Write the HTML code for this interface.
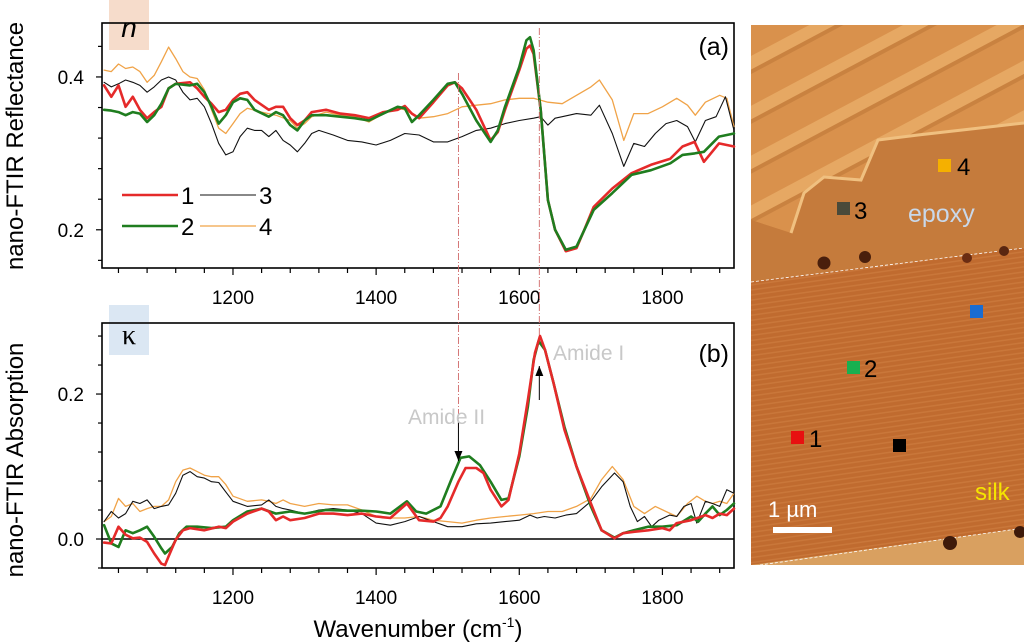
<!DOCTYPE html>
<html><head><meta charset="utf-8">
<style>
html,body{margin:0;padding:0;background:#fff;}
svg{display:block;font-family:"Liberation Sans",sans-serif;}
</style></head>
<body>
<svg id="fig" width="1024" height="644" viewBox="0 0 1024 644" xmlns="http://www.w3.org/2000/svg">
  <defs>
    <pattern id="stripes" width="44" height="44" patternUnits="userSpaceOnUse" patternTransform="rotate(-28)">
      <rect width="44" height="44" fill="#d9914c"/>
      <rect width="44" height="12" y="6" fill="#e6a863"/>
      <rect width="44" height="4" y="18" fill="#c98240"/>
    </pattern>
    <pattern id="silkTex" width="8" height="5" patternUnits="userSpaceOnUse" patternTransform="rotate(-8)">
      <rect width="8" height="5" fill="#c06b2f"/>
      <rect width="8" height="1.5" y="1" fill="#c9773a"/>
    </pattern>
    <marker id="arrowHead" markerWidth="10" markerHeight="8" refX="10" refY="4" orient="auto" markerUnits="userSpaceOnUse">
      <path d="M0,0 L10,4 L0,8 Z" fill="#000"/>
    </marker>
  </defs>

  <g id="afm">
    <rect x="751" y="25" width="273" height="540" fill="#c97c3c"/>
    <polygon points="751,25 1024,25 1024,123 918,135 878,140 861,180 824,177 804,193 791,233 751,220" fill="url(#stripes)"/>
    <polygon points="751,220 791,233 804,193 824,177 861,180 878,140 918,135 1024,123 1024,248 751,282" fill="#c57b3c"/>
    <polyline points="791,233 804,193 824,177 861,180 878,140 918,135 1024,123" fill="none" stroke="#f0c080" stroke-width="3"/>
    <polygon points="751,282 1024,248 1024,528 751,565" fill="url(#silkTex)"/>
    <polygon points="751,565 1024,528 1024,565 751,565" fill="#d9a060"/>
    <line x1="751" y1="282" x2="1024" y2="248" stroke="#fff" stroke-width="0.8" stroke-dasharray="3 2"/>
    <line x1="760" y1="565" x2="1024" y2="528" stroke="#fff" stroke-width="0.8" stroke-dasharray="3 2"/>
    <circle cx="824" cy="263" r="6.5" fill="#4a1f0c"/>
    <circle cx="865" cy="257" r="6" fill="#4a1f0c"/>
    <circle cx="967" cy="258" r="5" fill="#6a2c12"/>
    <circle cx="1004" cy="251" r="5" fill="#5a2610"/>
    <circle cx="950" cy="543" r="7" fill="#3e1a0a"/>
    <circle cx="1020" cy="532" r="6" fill="#3e1a0a"/>
    <rect x="938" y="159" width="13" height="13" fill="#f5b000"/>
    <text x="957" y="175" font-size="24" fill="#000">4</text>
    <rect x="837" y="202" width="13" height="13" fill="#4a4a3a"/>
    <text x="854" y="219" font-size="24" fill="#000">3</text>
    <text x="908" y="222" font-size="25" fill="#c9d8ea">epoxy</text>
    <rect x="970" y="305" width="13" height="13" fill="#1a6cd0"/>
    <rect x="847" y="361" width="13" height="13" fill="#18b050"/>
    <text x="864" y="377" font-size="24" fill="#000">2</text>
    <rect x="791" y="431" width="13" height="13" fill="#e81010"/>
    <text x="809" y="447" font-size="24" fill="#000">1</text>
    <rect x="893" y="439" width="13" height="13" fill="#000"/>
    <text x="975" y="500" font-size="24" fill="#f5e400">silk</text>
    <text x="768" y="517" font-size="22" fill="#fff">1 µm</text>
    <rect x="773" y="527" width="59" height="6" fill="#fff"/>
  </g>

  <g id="plots"></g>
</svg>

<script>
// ---------- Panel (a) data: nano-FTIR reflectance ----------
const wA12 = [1020,1030,1040,1050,1060,1070,1080,1090,1100,1110,1120,1140,1150,1160,1170,1180,1190,1200,1210,1220,1230,1250,1260,1270,1280,1290,1300,1310,1330,1350,1370,1390,1410,1430,1440,1450,1460,1480,1500,1510,1520,1540,1560,1570,1580,1600,1610,1615,1620,1630,1640,1650,1665,1680,1690,1704,1730,1757,1784,1811,1828,1845,1858,1879,1900];
const nRed = [.389,.374,.389,.361,.374,.357,.346,.354,.361,.385,.391,.393,.385,.374,.365,.354,.357,.370,.378,.380,.370,.357,.361,.361,.346,.337,.343,.354,.357,.352,.350,.346,.354,.357,.362,.352,.346,.367,.389,.393,.385,.357,.317,.328,.357,.409,.437,.441,.430,.357,.239,.200,.172,.176,.198,.230,.254,.274,.285,.293,.309,.315,.289,.313,.309];
const nGreen = [.357,.356,.354,.350,.354,.352,.341,.350,.365,.385,.391,.389,.391,.380,.361,.339,.350,.367,.372,.370,.357,.348,.354,.350,.337,.330,.343,.350,.350,.348,.346,.343,.352,.361,.359,.341,.350,.370,.391,.393,.378,.343,.315,.330,.361,.413,.448,.452,.435,.357,.239,.200,.174,.178,.198,.226,.248,.272,.278,.287,.298,.300,.302,.322,.326];
const wA3 = [1020,1030,1040,1050,1060,1070,1080,1090,1100,1110,1120,1130,1140,1150,1160,1170,1180,1190,1200,1210,1220,1230,1240,1250,1260,1270,1280,1290,1300,1310,1320,1340,1360,1380,1400,1420,1440,1460,1480,1500,1520,1540,1560,1580,1600,1620,1630,1640,1650,1660,1680,1700,1712,1730,1746,1760,1775,1790,1805,1820,1835,1846,1860,1875,1888,1900];
const nBlack = [.393,.387,.391,.396,.393,.389,.380,.387,.396,.400,.396,.380,.370,.372,.361,.339,.313,.298,.302,.322,.333,.330,.330,.322,.330,.317,.311,.302,.313,.326,.330,.324,.317,.315,.311,.317,.326,.324,.315,.315,.322,.330,.333,.339,.343,.346,.348,.337,.346,.348,.352,.350,.363,.326,.283,.313,.309,.326,.339,.343,.335,.315,.343,.348,.374,.330];
const wA4 = [1020,1030,1040,1050,1060,1070,1080,1090,1100,1110,1120,1130,1140,1150,1160,1170,1180,1190,1200,1210,1220,1240,1260,1280,1290,1300,1310,1330,1350,1370,1390,1410,1430,1440,1460,1480,1500,1520,1540,1560,1580,1600,1620,1640,1660,1680,1700,1712,1730,1746,1760,1780,1800,1820,1835,1846,1860,1880,1890,1900];
const nOrange = [.409,.407,.417,.411,.413,.407,.393,.402,.420,.439,.424,.407,.400,.398,.383,.357,.333,.326,.339,.352,.359,.354,.350,.343,.333,.339,.348,.354,.350,.348,.341,.352,.359,.357,.346,.348,.352,.361,.363,.365,.370,.372,.372,.367,.365,.376,.387,.396,.370,.317,.352,.352,.361,.372,.363,.350,.367,.376,.372,.335];

// ---------- Panel (b) data: nano-FTIR absorption ----------
const wB1 = [1020,1030,1040,1050,1060,1070,1080,1090,1100,1105,1110,1120,1130,1140,1160,1180,1190,1200,1220,1240,1250,1260,1270,1280,1300,1320,1340,1360,1380,1400,1420,1443,1460,1480,1490,1500,1515,1525,1540,1550,1560,1575,1585,1600,1612,1622,1629,1636,1648,1663,1680,1700,1715,1733,1745,1760,1780,1800,1810,1820,1840,1860,1870,1880,1890,1900];
const kRed = [-.005,-.006,.017,.006,.001,.002,-.004,-.020,-.034,-.036,-.024,-.001,.012,.015,.012,.017,.015,.024,.035,.042,.038,.026,.031,.026,.029,.035,.035,.033,.035,.031,.029,.049,.026,.024,.029,.045,.079,.098,.098,.091,.068,.045,.054,.118,.192,.257,.280,.261,.215,.151,.100,.049,.012,.001,.008,.010,.012,.015,.012,.022,.026,.033,.029,.035,.033,.042];
const wB2 = [1020,1030,1040,1050,1060,1070,1080,1090,1100,1105,1115,1125,1135,1150,1170,1190,1200,1220,1240,1260,1280,1300,1330,1360,1380,1400,1420,1443,1456,1470,1490,1505,1518,1530,1545,1560,1575,1585,1600,1612,1620,1627,1636,1648,1663,1680,1700,1715,1733,1745,1760,1780,1800,1820,1840,1850,1860,1870,1880,1890,1900];
const kGreen = [.019,-.006,-.011,.012,.008,.012,.017,.003,-.013,-.020,-.011,.008,.017,.017,.015,.017,.026,.038,.042,.035,.038,.035,.040,.039,.039,.038,.035,.052,.038,.035,.045,.082,.112,.114,.102,.079,.054,.056,.114,.183,.247,.273,.261,.215,.155,.100,.045,.012,.002,.008,.012,.017,.017,.019,.031,.024,.035,.045,.033,.040,.049];
const wB3 = [1020,1030,1040,1050,1060,1070,1080,1090,1100,1110,1120,1130,1140,1150,1160,1170,1180,1190,1200,1220,1240,1250,1260,1270,1280,1300,1320,1340,1360,1380,1400,1420,1440,1460,1480,1500,1520,1540,1560,1580,1600,1615,1625,1635,1650,1665,1680,1700,1715,1733,1745,1755,1765,1775,1785,1795,1810,1820,1830,1840,1848,1860,1870,1880,1890,1900];
const kBlack = [.024,.038,.029,.035,.052,.049,.054,.042,.045,.047,.063,.088,.093,.086,.084,.079,.078,.065,.052,.045,.047,.054,.045,.042,.040,.035,.040,.042,.040,.035,.022,.019,.024,.031,.024,.017,.017,.021,.022,.024,.026,.033,.029,.031,.029,.033,.035,.052,.072,.091,.079,.045,.024,.031,.017,.026,.033,.031,.045,.049,.022,.052,.049,.045,.068,.063];
const wB4 = [1020,1030,1040,1050,1060,1070,1080,1090,1100,1110,1120,1130,1140,1150,1160,1170,1180,1190,1200,1220,1240,1250,1260,1270,1280,1300,1320,1340,1360,1380,1400,1420,1440,1460,1480,1500,1520,1540,1560,1580,1600,1620,1640,1660,1680,1700,1715,1730,1745,1760,1775,1790,1805,1820,1835,1848,1860,1870,1880,1890,1900];
const kOrange = [.024,.031,.056,.045,.049,.038,.042,.045,.045,.054,.079,.095,.098,.093,.088,.086,.086,.075,.059,.052,.054,.052,.049,.054,.049,.045,.049,.047,.047,.040,.031,.029,.029,.031,.026,.024,.022,.026,.029,.031,.033,.035,.038,.038,.045,.056,.082,.100,.082,.045,.035,.045,.038,.031,.049,.059,.052,.049,.052,.049,.063];

// ---------- Axis tick data ----------
const xTickLabels = [1200,1400,1600,1800];
const xMinorTicks = [1040,1080,1120,1160,1200,1240,1280,1320,1360,1400,1440,1480,1520,1560,1600,1640,1680,1720,1760,1800,1840,1880];
const yTicksA = [0.16,0.2,0.24,0.28,0.32,0.36,0.4,0.44];
const yLabelsA = [0.2,0.4];
const yTicksB = [-0.04,0,0.04,0.08,0.12,0.16,0.2,0.24,0.28];
const yLabelsB = [0.0,0.2];
const amidePeaks = [1515,1628];

const NS = 'http://www.w3.org/2000/svg';
const root = document.getElementById('plots');
function mk(tag, attrs, parent){
  const e = document.createElementNS(NS, tag);
  for (const k in attrs) e.setAttribute(k, attrs[k]);
  (parent||root).appendChild(e);
  return e;
}
const X0 = 102, X1 = 734, W0 = 1017, W1 = 1900;
const xS = w => X0 + (w - W0) / (W1 - W0) * (X1 - X0);
const panA = {top:23, bot:268, vmin:0.150, vmax:0.4706};
const panB = {top:323, bot:568, vmin:-0.04, vmax:0.298};
const yS = (p, v) => p.bot - (v - p.vmin) / (p.vmax - p.vmin) * (p.bot - p.top);

function panel(p, yTicks, yLabels, decimals, name){
  const g = mk('g', {});
  
  
  const box = mk('rect', {x:X0, y:p.top, width:X1-X0, height:p.bot-p.top, fill:'none', stroke:'#000', 'stroke-width':1.6}, g);
  
  
  xMinorTicks.forEach(w => {
    const major = xTickLabels.indexOf(w) >= 0;
    const t = mk('line', {x1:xS(w), x2:xS(w), y1:p.bot, y2:p.bot + (major?7:5), stroke:'#000', 'stroke-width':1.2}, g);
    
    
  });
  xTickLabels.forEach(w => {
    const t = mk('text', {x:xS(w), y:p.bot+36, 'font-size':19, 'text-anchor':'middle', fill:'#000'}, g);
    t.textContent = w;
    
    
  });
  yTicks.forEach(v => {
    const major = yLabels.some(l => Math.abs(l - v) < 1e-6);
    const t = mk('line', {x1:X0 - (major?6:4), x2:X0, y1:yS(p,v), y2:yS(p,v), stroke:'#000', 'stroke-width':1.2}, g);
    
    
  });
  yLabels.forEach(v => {
    const t = mk('text', {x:84, y:yS(p,v)+7, 'font-size':19, 'text-anchor':'end', fill:'#000'}, g);
    t.textContent = v.toFixed(decimals);
    
    
  });
  return g;
}
function series(p, ws, vs, color, width, name){
  const pts = ws.map((w,i) => xS(w).toFixed(1) + ',' + yS(p, vs[i]).toFixed(1)).join(' ');
  const l = mk('polyline', {points:pts, fill:'none', stroke:color, 'stroke-width':width, 'stroke-linejoin':'round', 'stroke-linecap':'round'});
  
  
}

const nBox = mk('rect', {x:109, y:0, width:40, height:50, fill:'#f6dccb'});


const kBox = mk('rect', {x:109, y:305, width:40, height:50, fill:'#dbe7f3'});



panel(panA, yTicksA, yLabelsA, 1, 'panel-a');
panel(panB, yTicksB, yLabelsB, 1, 'panel-b');

const z = mk('line', {x1:X0, x2:X1, y1:yS(panB,0), y2:yS(panB,0), stroke:'#000', 'stroke-width':1.5});



series(panA, wA4, nOrange, '#f0a348', 1.3, 'series-4-reflectance');
series(panA, wA3, nBlack, '#111', 1.1, 'series-3-reflectance');
series(panA, wA12, nRed, '#e52a2a', 2.6, 'series-1-reflectance');
series(panA, wA12, nGreen, '#1f7d1f', 2.6, 'series-2-reflectance');
series(panB, wB4, kOrange, '#f0a348', 1.3, 'series-4-absorption');
series(panB, wB3, kBlack, '#111', 1.1, 'series-3-absorption');
series(panB, wB2, kGreen, '#1f7d1f', 2.6, 'series-2-absorption');
series(panB, wB1, kRed, '#e52a2a', 2.6, 'series-1-absorption');

const g1 = mk('line', {x1:xS(amidePeaks[0]), x2:xS(amidePeaks[0]), y1:73, y2:430, stroke:'#d06868', 'stroke-width':0.9, 'stroke-dasharray':'7 2 1 2'});


const g2 = mk('line', {x1:xS(amidePeaks[1]), x2:xS(amidePeaks[1]), y1:28, y2:337, stroke:'#d06868', 'stroke-width':0.9, 'stroke-dasharray':'7 2 1 2'});


const a1 = mk('line', {x1:xS(amidePeaks[0]), x2:xS(amidePeaks[0]), y1:420, y2:461, stroke:'#000', 'stroke-width':1, 'marker-end':'url(#arrowHead)'});


const a2 = mk('line', {x1:xS(amidePeaks[1]), x2:xS(amidePeaks[1]), y1:400, y2:366, stroke:'#000', 'stroke-width':1, 'marker-end':'url(#arrowHead)'});



function txt(x,y,s,attrs,name){
  const t = mk('text', Object.assign({x:x, y:y, fill:'#000'}, attrs));
  t.textContent = s;
  
  
  return t;
}
txt(553, 360, 'Amide I', {'font-size':21, fill:'#c8c8c8'}, 'amide-i-label');
txt(408, 424, 'Amide II', {'font-size':21, fill:'#c8c8c8'}, 'amide-ii-label');
txt(729, 55, '(a)', {'font-size':25, 'text-anchor':'end'}, 'panel-a-label');
txt(729, 362, '(b)', {'font-size':25, 'text-anchor':'end'}, 'panel-b-label');
txt(129, 37, 'n', {'font-size':28, 'font-style':'italic', 'text-anchor':'middle'}, 'n-symbol');
txt(129, 344, 'κ', {'font-size':28, 'text-anchor':'middle', 'font-family':'"Liberation Serif",serif'}, 'kappa-symbol');

const leg = [[122,195,'#e52a2a',2.6,'1'],[200,195,'#111',1.1,'3'],[122,226,'#1f7d1f',2.6,'2'],[200,226,'#f0a348',1.3,'4']];
leg.forEach(d => {
  const l = mk('line', {x1:d[0], x2:d[0]+56, y1:d[1], y2:d[1], stroke:d[2], 'stroke-width':d[3]});
  
  
  txt(d[0]+59, d[1]+9, d[4], {'font-size':24}, 'legend-label-' + d[4]);
});

txt(0, 0, 'nano-FTIR Reflectance', {'font-size':24, 'text-anchor':'middle', transform:'translate(23,146) rotate(-90)'}, 'y-axis-title-a');
txt(0, 0, 'nano-FTIR Absorption', {'font-size':24, 'text-anchor':'middle', transform:'translate(23,460) rotate(-90)'}, 'y-axis-title-b');
const xt = mk('text', {x:418, y:637, 'font-size':24, 'text-anchor':'middle', fill:'#000'});


xt.innerHTML = 'Wavenumber (cm<tspan dy="-10" font-size="14">-1</tspan><tspan dy="10">)</tspan>';
</script>
</body></html>
